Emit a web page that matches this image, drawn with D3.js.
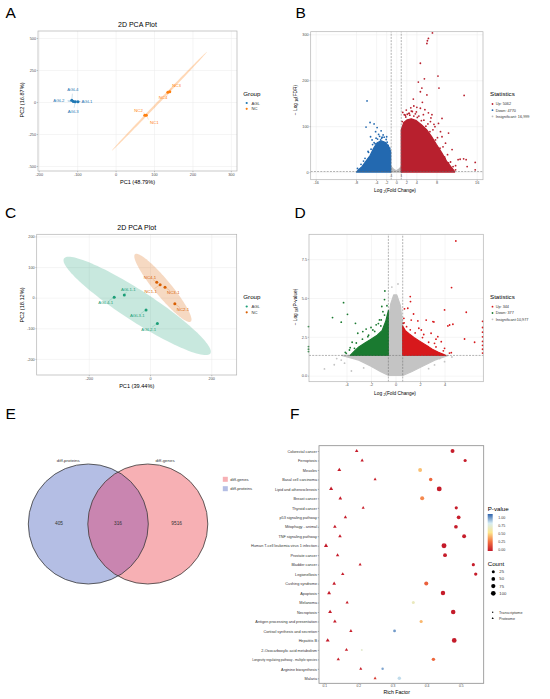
<!DOCTYPE html>
<html><head><meta charset="utf-8">
<script src="https://cdn.jsdelivr.net/npm/d3@7"></script>
<style>body{margin:0;background:#fff}svg{display:block}</style>
</head><body><svg id="fig" width="550" height="699"></svg>
<script>
// ================= DATA =================
// Panel A : PCA (transcriptome)
const pcaA_samples = ["AGL1","AGL2","AGL3","AGL4","NC1","NC2","NC3","NC4"];
const pcaA_group   = ["AGL","AGL","AGL","AGL","NC","NC","NC","NC"];
const pcaA_pc1     = [-98,-110,-105,-114,80,76,141,136];
const pcaA_pc2     = [3,5,2,14,-104,-103,80,76];
const pcaA_xTicks  = [-200,-100,0,100,200,300];
const pcaA_yTicks  = [-500,-250,0,250,500];
const pcaA_ellipseAGL = [-108,7,18,-2,0.5,6];      // cx, cy, semi-axis u, semi-axis v
const pcaA_ellipseNC  = [114,6,124,387,2.2,-6];
// Panel C : PCA (proteome)
const pcaC_samples = ["AGL1-1","AGL2-1","AGL3-1","AGL4-1","NC1-1","NC2-1","NC3-1","NC4-1"];
const pcaC_group   = ["AGL","AGL","AGL","AGL","NC","NC","NC","NC"];
const pcaC_pc1     = [-84,24,-13,-117,33,81,49,22];
const pcaC_pc2     = [9,-84,-40,1,42,-20,34,50];
const pcaC_xTicks  = [-200,0,200];
const pcaC_yTicks  = [-200,-100,0,100,200];
const pcaC_ellipseAGL = [-42,-27,239,-155,27,42];
const pcaC_ellipseNC  = [42,32,91,-110,21,17];
// Panel B : volcano (transcriptome, FDR)
const volB_xTicks = [-16,-8,-4,-2,0,2,4,8,16];
const volB_yTicks = [0,100,200,300];
const volB_stats  = ["Up: 5062","Down: 4770","Insignificant: 16,999"];
const volB_upCloudFC   = [1.0,1.0,1.5,2.2,3,4,5,6,7,8,9,10,11,11.5,11.6];
const volB_upCloudY    = [0,92,108,114,116,112,103,93,78,60,43,24,10,3,0];
const volB_downCloudFC = [-1.1,-1.1,-1.5,-2.2,-3.0,-3.8,-4.5,-5.2,-6,-6.8,-7.6,-7.9];
const volB_downCloudY  = [0,45,56,65,68,64,52,36,24,12,4,0];
const volB_nsCloudFC   = [-1.2,-1.0,-0.5,0,0.5,1.0,1.2];
const volB_nsCloudY    = [0,12,6,3,6,12,0];
const volB_upFC  = [7.2,6.4,6.2,6.1,4.8,8.3,5.6,4.4,8.5,5.1,4.8,13.5,6.1,3.4,3.5,4.1,4.8,5.7,6.4,7.1,9.1,8.4,5.4,10.4,7.7,9.1,9.8,11.1,12.3,12.7,13.4,13.9,15.7,9.7,10.4,11.3,11.8,14.1,15.7,2.6,3.0,2.2,4.0,6.8,7.5,8.8,1.8,2.9,5.2,6.9,
  1.3,1.6,2.0,2.5,3.2,3.8,4.5,5.5,6.3,7.3,8.2,9.3,10.2,10.8,11.8,1.2,1.9,2.7,3.5,4.2,5.0,5.9,6.7,7.8,8.7,9.6];
const volB_upY   = [303,291,286,280,237,209,203,196,183,183,175,167,168,159,144,141,139,136,129,125,117,106,125,85,99,77,63,49,27,28,29,27,21,30,20,12,5,12,5,128,133,126,131,110,104,88,124,140,152,118,
  130,125,135,128,132,127,122,113,105,92,75,55,38,22,14,110,120,124,122,119,112,100,88,70,52,33];
const volB_downFC = [-5.8,-6.0,-5.2,-4.4,-3.8,-4.1,-3.0,-2.6,-5.1,-4.8,-3.1,-1.9,-2.2,-3.5,-2.8,-4.2,-1.6,-5.6,
  -1.3,-1.8,-2.4,-3.3,-4.0,-4.7,-5.5,-6.2,-7.0,-7.7,-2.0,-2.9,-3.7,-4.4,-5.0,-6.5];
const volB_downY  = [155,98,108,105,97,88,90,81,77,70,70,77,63,82,76,62,58,45,
  52,65,76,78,74,60,43,30,17,8,71,74,72,64,50,24];
// Panel D : volcano (proteome, P-value)
const volD_xTicks = [-4,-2,0,2,4];
const volD_yTicks = [0,2.5,5,7.5];
const volD_stats  = ["Up: 344","Down: 377","Insignificant:10,977"];
const volD_upCloudFC   = [0.58,0.58,0.8,1.1,1.5,2.0,2.5,3.0,3.5,3.9,4.1];
const volD_upCloudY    = [1.3,3.2,2.9,2.7,2.45,2.2,1.95,1.7,1.5,1.38,1.3];
const volD_downCloudFC = [-0.58,-0.58,-0.8,-1.1,-1.5,-2.0,-2.5,-3.0,-3.4,-3.7];
const volD_downCloudY  = [1.3,4.2,3.5,2.9,2.6,2.35,2.1,1.85,1.55,1.3];
const volD_nsCloudFC = [-4.4,-3.0,-2.0,-1.2,-0.6,0.6,1.3,2.2,3.2,4.3,0.58,0.58,0.4,0.1,-0.15,-0.4,-0.58,-0.58];
const volD_nsCloudY  = [1.3,1.0,0.6,0.25,0.02,0.02,0.25,0.6,1.0,1.3,1.3,3.2,4.5,5.2,5.2,4.6,3.5,1.3];
const volD_upFC = [4.92,4.57,5.77,4.0,1.2,1.22,1.0,0.73,1.47,1.28,1.82,2.5,3.05,4.41,4.68,0.68,0.63,3.13,4.27,5.63,6.45,2.1,2.9,3.45,3.73,3.18,2.64,4.0,2.1,4.55,1.55,7.1,7.1,7.1,7.1,7.1,7.1,7.1,7.1,1.9,2.3,3.3,
  0.7,0.9,1.2,1.6,2.2,2.7,3.3,3.9,4.4];
const volD_upY  = [8.67,5.67,4.08,4.23,5.09,4.77,4.34,4.3,3.97,3.58,3.52,3.58,3.48,3.26,3.31,3.69,3.37,3.46,3.2,2.36,2.15,2.94,2.73,2.51,2.19,2.08,1.87,1.76,1.55,1.48,2.3,1.45,1.7,1.95,2.2,2.5,2.8,3.1,3.5,3.05,2.65,2.35,
  3.4,3.15,2.95,2.75,2.45,2.15,1.85,1.6,1.45];
const volD_downFC = [-4.24,-3.92,-5.14,-4.43,-3.27,-0.87,-1.12,-1.03,-1.31,-7.1,-3.54,-3.08,-2.67,-2.26,-1.85,-1.58,-3.35,-2.8,-4.02,-3.76,-1.17,-7.1,-7.1,-7.1,-2.4,-1.4,-2.0,-0.9,
  -0.7,-0.9,-1.2,-1.7,-2.2,-2.7,-3.2,-3.7,-4.1];
const volD_downY  = [4.7,3.95,3.74,3.44,3.37,5.45,4.45,4.12,3.59,3.16,2.15,2.73,2.84,2.51,2.94,3.27,1.76,1.55,1.44,1.65,3.59,1.87,1.55,1.7,3.0,3.35,3.1,4.9,
  4.5,3.9,3.2,2.85,2.6,2.35,2.1,1.8,1.5];
const volD_nsFC = [-5.8,-4.43,2.9,3.18,-4.16,-5.0,3.6,-0.3,0.2,-3.6,4.0,-2.6,2.7,-4.8,4.6];
const volD_nsY  = [0.43,1.0,1.0,0.69,0.8,0.7,1.1,5.7,5.9,0.3,0.9,0.5,0.45,1.1,1.2];
// Panel E : Venn
const vennSets  = ["diff-proteins","diff-genes"];
const vennOnly  = [405,9516];
const vennBoth  = 316;
// Panel F : KEGG enrichment bubble plot
const fCats = ["Colorectal cancer","Ferroptosis","Measles","Basal cell carcinoma","Lipid and atherosclerosis","Breast cancer","Thyroid cancer","p53 signaling pathway","Mitophagy - animal","TNF signaling pathway","Human T-cell leukemia virus 1 infection","Prostate cancer","Bladder cancer","Legionellosis","Cushing syndrome","Apoptosis","Melanoma","Necroptosis","Antigen processing and presentation","Cortisol synthesis and secretion","Hepatitis B","2-Oxocarboxylic acid metabolism","Longevity regulating pathway - multiple species","Arginine biosynthesis","Malaria"];
const fProtRF    = [0.195,0.211,0.144,0.249,0.120,0.147,0.214,0.162,0.131,0.146,0.105,0.139,0.205,0.154,0.129,0.114,0.167,0.117,0.131,0.178,0.110,0.165,0.141,0.207,0.249];
const fProtCount = [8,6,12,4,14,9,4,6,9,9,15,7,4,7,9,12,5,12,9,5,13,6,6,4,4];
const fProtP     = [0.01,0.01,0.005,0.02,0.002,0.01,0.02,0.01,0.01,0.01,0.001,0.01,0.02,0.01,0.01,0.003,0.02,0.003,0.01,0.02,0.002,0.02,0.02,0.02,0.1];
const fTransRF    = [0.476,0.513,0.381,0.412,0.437,0.387,0.487,0.494,0.486,0.510,0.451,0.454,0.537,0.544,0.399,0.448,0.361,0.478,0.384,0.306,0.481,0.210,0.420,0.271,0.320];
const fTransCount = [60,30,60,40,110,65,30,50,50,60,115,55,30,35,65,85,25,90,30,20,100,4,40,12,40];
const fTransP     = [0.01,0.01,0.42,0.22,0.005,0.3,0.01,0.01,0.01,0.01,0.001,0.01,0.01,0.01,0.2,0.005,0.62,0.002,0.4,0.9,0.002,0.66,0.22,0.88,0.78];
const fXTicks = [0.1,0.2,0.3,0.4,0.5];
const fPTicks = [0,0.25,0.5,0.75,1];
const fCountTicks = [25,50,75,100];

// ================= DRAWING =================
const FONT = "Liberation Sans, Arial, sans-serif";
const svg = d3.select("#fig").attr("font-family", FONT);
svg.append("rect").attr("width",550).attr("height",699).attr("fill","#fff");

function styleAxis(s, fs){
  s.attr("font-size",fs).attr("font-family",FONT);
  s.select(".domain").remove();
  s.selectAll(".tick line").attr("stroke","#555").attr("stroke-width",0.4);
  s.selectAll(".tick text").attr("fill","#4d4d4d");
}
function grid(g,x,y,xt,yt){
  const [xl,xr]=x.range(), [yb,ytp]=y.range();
  g.append("g").attr("transform",`translate(0,${yb})`)
   .call(d3.axisBottom(x).tickValues(xt).tickSize(-(yb-ytp)).tickFormat(""))
   .call(s=>{s.select(".domain").remove();s.selectAll("line").attr("stroke","#ebebeb").attr("stroke-width",0.5);});
  g.append("g").attr("transform",`translate(${xl},0)`)
   .call(d3.axisLeft(y).tickValues(yt).tickSize(-(xr-xl)).tickFormat(""))
   .call(s=>{s.select(".domain").remove();s.selectAll("line").attr("stroke","#ebebeb").attr("stroke-width",0.5);});
}
function axes(g,x,y,xt,yt,fx,fy,fs){
  const [xl]=x.range(), [yb]=y.range();
  if(xt) g.append("g").attr("transform",`translate(0,${yb})`)
   .call(d3.axisBottom(x).tickValues(xt).tickSize(1.2).tickPadding(0.8).tickFormat(fx||(d=>String(d))))
   .call(s=>styleAxis(s,fs||3.8));
  if(yt) g.append("g").attr("transform",`translate(${xl},0)`)
   .call(d3.axisLeft(y).tickValues(yt).tickSize(1.2).tickPadding(0.8).tickFormat(fy||(d=>String(d))))
   .call(s=>styleAxis(s,fs||3.8));
}
function border(g,x,y,col){
  const [xl,xr]=x.range(), [yb,ytp]=y.range();
  g.append("rect").attr("x",xl).attr("y",ytp).attr("width",xr-xl).attr("height",yb-ytp)
   .attr("fill","none").attr("stroke",col||"#b3b3b3").attr("stroke-width",0.7);
}
function text(g,x,y,str,fs,opt={}){
  return g.append("text").attr("x",x).attr("y",y).attr("font-size",fs)
   .attr("text-anchor",opt.anchor||"start").attr("fill",opt.fill||"#000").text(str);
}
function panelLetter(x,y,l){ text(svg,x,y,l,15.5); }
function ellipsePts(e,n){ const [cx,cy,ux,uy,vx,vy]=e;
  return d3.range(n).map(i=>{const t=2*Math.PI*i/n;return [cx+ux*Math.cos(t)+vx*Math.sin(t), cy+uy*Math.cos(t)+vy*Math.sin(t)];}); }

// ---------- PCA panels ----------
function pcaPanel(cfg){
  const g=svg.append("g");
  const x=d3.scaleLinear().domain(cfg.xd).range(cfg.xr);
  const y=d3.scaleLinear().domain(cfg.yd).range(cfg.yr);
  grid(g,x,y,cfg.xt,cfg.yt);
  const line=d3.line().x(d=>x(d[0])).y(d=>y(d[1])).curve(d3.curveLinearClosed);
  cfg.ell.forEach((e,i)=>{
    g.append("path").attr("d",line(ellipsePts(e,120))).attr("fill",cfg.colors[i]).attr("fill-opacity",cfg.ellAlpha).attr("stroke","none");
  });
  const color=d3.scaleOrdinal().domain(["AGL","NC"]).range(cfg.colors);
  const idx=d3.range(cfg.names.length);
  g.selectAll(null).data(idx).join("line")
   .attr("x1",i=>x(cfg.pc1[i])).attr("y1",i=>y(cfg.pc2[i]))
   .attr("x2",i=>x(cfg.pc1[i])+cfg.lab[i][0]*0.6).attr("y2",i=>y(cfg.pc2[i])+cfg.lab[i][1]*0.6)
   .attr("stroke",i=>color(cfg.grp[i])).attr("stroke-width",0.35).attr("stroke-opacity",0.6);
  g.selectAll(null).data(idx).join("circle")
   .attr("cx",i=>x(cfg.pc1[i])).attr("cy",i=>y(cfg.pc2[i])).attr("r",1.5)
   .attr("fill",i=>color(cfg.grp[i]));
  g.selectAll(null).data(idx).join("text")
   .attr("x",i=>x(cfg.pc1[i])+cfg.lab[i][0]).attr("y",i=>y(cfg.pc2[i])+cfg.lab[i][1]+1.5)
   .attr("text-anchor",i=>cfg.lab[i][2]).attr("font-size",4.3)
   .attr("fill",i=>color(cfg.grp[i])).text(i=>cfg.names[i]);
  axes(g,x,y,cfg.xt,cfg.yt);
  border(g,x,y);
  const cx=(cfg.xr[0]+cfg.xr[1])/2;
  text(g,cx,cfg.titleY,"2D PCA Plot",7,{anchor:"middle"});
  text(g,cx,cfg.xlabY,cfg.xlab,5.6,{anchor:"middle"});
  g.append("text").attr("transform",`translate(23.5,${cfg.ylabY}) rotate(-90)`).attr("text-anchor","middle")
   .attr("font-size",5.6).text(cfg.ylab);
  text(g,243.3,cfg.legY,"Group",6.2);
  ["AGL","NC"].forEach((k,i)=>{
    g.append("circle").attr("cx",246.7).attr("cy",cfg.legY+7.5+i*5.8).attr("r",1.1).attr("fill",color(k));
    text(g,251.5,cfg.legY+9+i*5.8,k,4.2,{fill:"#333"});
  });
}
pcaPanel({names:pcaA_samples,grp:pcaA_group,pc1:pcaA_pc1,pc2:pcaA_pc2,xt:pcaA_xTicks,yt:pcaA_yTicks,
  xd:[-202,316],xr:[38,237],yd:[-539,555],yr:[171,31],ell:[pcaA_ellipseAGL,pcaA_ellipseNC],
  colors:["#1f78b4","#ff7f0e"],ellAlpha:0.3,
  lab:[[3.5,0,"start"],[-9,-0.5,"end"],[-2,10,"middle"],[1,-11,"middle"],[3.6,7,"start"],[-2,-5,"end"],[2.5,-6,"start"],[-0.5,5.7,"end"]],
  titleY:26.5,xlabY:183.8,xlab:"PC1 (48.79%)",ylabY:100,ylab:"PC2 (16.87%)",legY:95.5});
pcaPanel({names:pcaC_samples,grp:pcaC_group,pc1:pcaC_pc1,pc2:pcaC_pc2,xt:pcaC_xTicks,yt:pcaC_yTicks,
  xd:[-370,283],xr:[36.7,236.7],yd:[-252.6,207],yr:[375,234.3],ell:[pcaC_ellipseAGL,pcaC_ellipseNC],
  colors:["#1b9e77","#d95f02"],ellAlpha:0.24,
  lab:[[4,-5.2,"middle"],[-8.6,6,"middle"],[-8.7,6,"middle"],[-8.5,5.3,"middle"],[-9.4,6.2,"middle"],[8.2,6.2,"middle"],[8.3,5.7,"middle"],[-6.7,-5,"middle"]],
  titleY:230,xlabY:387.8,xlab:"PC1 (39.44%)",ylabY:305,ylab:"PC2 (18.12%)",legY:299});

// ---------- Volcano panels ----------
function volcano(cfg){
  const g=svg.append("g");
  const x=d3.scaleLinear().domain(cfg.xd).range(cfg.xr);
  const y=d3.scaleLinear().domain(cfg.yd).range(cfg.yr);
  grid(g,x,y,cfg.xt,cfg.yt);
  const line=d3.line().x(d=>x(d[0])).y(d=>y(d[1])).curve(d3.curveLinearClosed);
  const cloud=(fx,fy,col)=>g.append("path").attr("d",line(fx.map((v,i)=>[v,fy[i]])))
     .attr("fill",col).attr("stroke",col).attr("stroke-width",1.2).attr("stroke-linejoin","round");
  const pts=(fx,fy,col)=>g.selectAll(null).data(fx.map((v,i)=>[v,fy[i]])).join("circle")
     .attr("cx",d=>x(d[0])).attr("cy",d=>y(d[1])).attr("r",0.9).attr("fill",col);
  cloud(cfg.ns[0],cfg.ns[1],cfg.cols[2]);
  if(cfg.nsPts) pts(cfg.nsPts[0],cfg.nsPts[1],cfg.cols[2]);
  cloud(cfg.down[0],cfg.down[1],cfg.cols[1]);
  cloud(cfg.up[0],cfg.up[1],cfg.cols[0]);
  pts(cfg.downPts[0],cfg.downPts[1],cfg.cols[1]);
  pts(cfg.upPts[0],cfg.upPts[1],cfg.cols[0]);
  const [xl,xr]=x.range(), [yb,ytp]=y.range();
  const dash=(x1,y1,x2,y2)=>g.append("line").attr("x1",x1).attr("y1",y1).attr("x2",x2).attr("y2",y2)
     .attr("stroke","#666").attr("stroke-width",0.5).attr("stroke-dasharray","2,1.2");
  cfg.vlines.forEach(v=>dash(x(v),yb,x(v),ytp));
  dash(xl,y(cfg.hline),xr,y(cfg.hline));
  axes(g,x,y,cfg.xt,cfg.yt,null,cfg.fy);
  border(g,x,y);
  const xt=g.append("text").attr("x",395).attr("y",cfg.xlabY).attr("text-anchor","middle").attr("font-size",4.8);
  xt.append("tspan").text("Log ");
  xt.append("tspan").attr("font-size",3.4).attr("dy",1).text("2");
  xt.append("tspan").attr("dy",-1).text("(Fold Change)");
  const yt=g.append("text").attr("transform",`translate(297,${cfg.ylabY}) rotate(-90)`).attr("text-anchor","middle").attr("font-size",4.8);
  yt.append("tspan").text("− Log ");
  yt.append("tspan").attr("font-size",3.4).attr("dy",1).text("10");
  yt.append("tspan").attr("dy",-1).text(cfg.ylab);
  text(g,490,cfg.legY,"Statistics",6.2);
  cfg.stats.forEach((s,i)=>{
    const cy=cfg.legY+7.7+i*cfg.legStep;
    g.append("circle").attr("cx",492.5).attr("cy",cy).attr("r",0.9).attr("fill",cfg.cols[i]);
    text(g,495.7,cy+1.3,s,3.8,{fill:"#333"});
  });
  return {g,x,y};
}
const vb=volcano({xd:[-17,17.25],xr:[310.7,483],yd:[-16.5,305.7],yr:[179.7,31.7],xt:volB_xTicks,yt:volB_yTicks,
  cols:["#b8202e","#2369b0","#bdbdbd"],
  up:[volB_upCloudFC,volB_upCloudY],down:[volB_downCloudFC,volB_downCloudY],ns:[volB_nsCloudFC,volB_nsCloudY],
  upPts:[volB_upFC,volB_upY],downPts:[volB_downFC,volB_downY],
  vlines:[-1,1],hline:1.3,xlabY:192,ylabY:100,ylab:"(FDR)",stats:volB_stats,legY:96.3,legStep:6.2});
[-1,1].forEach(v=>text(vb.g,vb.x(v),177.3,String(v),3,{anchor:"middle",fill:"#4d4d4d"}));
volcano({xd:[-7.06,7.16],xr:[309,483.3],yd:[-0.39,9.1],yr:[381.7,234.3],xt:volD_xTicks,yt:volD_yTicks,
  fy:d3.format(".1f"),
  cols:["#d7191c","#1a7a30","#c4c4c4"],
  up:[volD_upCloudFC,volD_upCloudY],down:[volD_downCloudFC,volD_downCloudY],ns:[volD_nsCloudFC,volD_nsCloudY],
  nsPts:[volD_nsFC,volD_nsY],
  upPts:[volD_upFC,volD_upY],downPts:[volD_downFC,volD_downY],
  vlines:[-0.585,0.585],hline:1.301,xlabY:395,ylabY:307,ylab:"(P-value)",stats:volD_stats,legY:299,legStep:6.3});

// ---------- Panel E : Venn ----------
(function(){
  const g=svg.append("g");
  const cy=524, r=60;
  const cxs=d3.scalePoint().domain(vennSets).range([88.3,147.8]);
  const fills=["#b4bee4","#f7b0b4"];
  vennSets.forEach((s,i)=>g.append("circle").attr("cx",cxs(s)).attr("cy",cy).attr("r",r).attr("fill",fills[i]));
  svg.append("clipPath").attr("id","vclip").append("circle").attr("cx",cxs(vennSets[0])).attr("cy",cy).attr("r",r);
  g.append("circle").attr("cx",cxs(vennSets[1])).attr("cy",cy).attr("r",r).attr("fill","#c985b0").attr("clip-path","url(#vclip)");
  vennSets.forEach(s=>g.append("circle").attr("cx",cxs(s)).attr("cy",cy).attr("r",r).attr("fill","none").attr("stroke","#3a3a3a").attr("stroke-width",0.8));
  text(g,68.3,461.5,vennSets[0],4.4,{anchor:"middle",fill:"#333"});
  text(g,165,461.5,vennSets[1],4.4,{anchor:"middle",fill:"#333"});
  text(g,59,525,String(vennOnly[0]),4.8,{anchor:"middle",fill:"#333"});
  text(g,(cxs(vennSets[0])+cxs(vennSets[1]))/2,525,String(vennBoth),4.8,{anchor:"middle",fill:"#333"});
  text(g,176.7,525,String(vennOnly[1]),4.8,{anchor:"middle",fill:"#333"});
  [[vennSets[1],fills[1]],[vennSets[0],fills[0]]].forEach((d,i)=>{
    g.append("rect").attr("x",222.8).attr("y",476.8+i*9.4).attr("width",5).attr("height",5).attr("fill",d[1]);
    text(g,230.3,480.8+i*9.4,d[0],4.2,{fill:"#333"});
  });
})();

// ---------- Panel F : bubble ----------
(function(){
  const g=svg.append("g");
  const x=d3.scaleLinear().domain([0.0845,0.5674]).range([319,483.7]);
  const y=d3.scalePoint().domain(fCats).range([451,678.3]);
  const rS=d3.scaleSqrt().domain([0,100]).range([0.65,2.35]);
  const col=d3.scaleLinear().domain(fPTicks).range(["#c41a2a","#f3703f","#fde68c","#d5ecf3","#2f63ad"]);
  g.append("rect").attr("x",319).attr("y",445.7).attr("width",483.7-319).attr("height",683.3-445.7)
   .attr("fill","none").attr("stroke","#8a8a8a").attr("stroke-width",0.8);
  g.append("g").attr("transform","translate(0,683.3)")
   .call(d3.axisBottom(x).tickValues(fXTicks).tickSize(1).tickPadding(0.8).tickFormat(d3.format(".1f")))
   .call(s=>styleAxis(s,3.3));
  g.append("g").attr("transform","translate(319,0)")
   .call(d3.axisLeft(y).tickSize(1.2).tickPadding(0.8))
   .call(s=>{styleAxis(s,3.8);s.selectAll(".tick text").attr("fill","#333")
      .attr("font-size",d=>d.length>40?3.1:3.8);});
  g.selectAll(null).data(fCats).join("circle")
   .attr("cx",(d,i)=>x(fTransRF[i])).attr("cy",d=>y(d)).attr("r",(d,i)=>rS(fTransCount[i]))
   .attr("fill",(d,i)=>col(fTransP[i]));
  g.selectAll(null).data(fCats).join("path")
   .attr("transform",(d,i)=>`translate(${x(fProtRF[i])},${y(d)})`)
   .attr("d",(d,i)=>d3.symbol(d3.symbolTriangle,Math.PI*Math.pow(rS(fProtCount[i]),2)*1.35)())
   .attr("fill",(d,i)=>col(fProtP[i]));
  text(g,396.7,694.2,"Rich Factor",5.2,{anchor:"middle"});
  text(g,487.7,510.6,"P-value",6.2);
  const grad=svg.append("defs").append("linearGradient").attr("id","pgrad").attr("x1",0).attr("y1",1).attr("x2",0).attr("y2",0);
  d3.range(0,1.0001,0.05).forEach(t=>grad.append("stop").attr("offset",t).attr("stop-color",col(t)));
  g.append("rect").attr("x",487.7).attr("y",514).attr("width",5).attr("height",37).attr("fill","url(#pgrad)");
  const cb=d3.scaleLinear().domain([0,1]).range([549.2,517.3]);
  fPTicks.forEach(t=>text(g,498.3,cb(t)+1.3,d3.format(".2f")(t),3.6,{fill:"#333"}));
  text(g,487.7,565.6,"Count",6.2);
  fCountTicks.forEach((c,i)=>{
    const cy=571.7+i*7.2;
    g.append("circle").attr("cx",493.3).attr("cy",cy).attr("r",rS(c)).attr("fill","#000");
    text(g,499.3,cy+1.4,String(c),4.2,{fill:"#333"});
  });
  g.append("circle").attr("cx",492.7).attr("cy",612.3).attr("r",0.7).attr("fill","#000");
  text(g,499,613.5,"Transcriptome",3.7,{fill:"#333"});
  g.append("path").attr("transform","translate(492.7,618.3)").attr("d",d3.symbol(d3.symbolTriangle,2)()).attr("fill","#000");
  text(g,499,619.5,"Proteome",3.7,{fill:"#333"});
})();

panelLetter(5.5,18.3,"A");
panelLetter(295.5,18.3,"B");
panelLetter(5,218.3,"C");
panelLetter(294.5,218.3,"D");
panelLetter(5.5,418.5,"E");
panelLetter(290,418.5,"F");
</script></body></html>
